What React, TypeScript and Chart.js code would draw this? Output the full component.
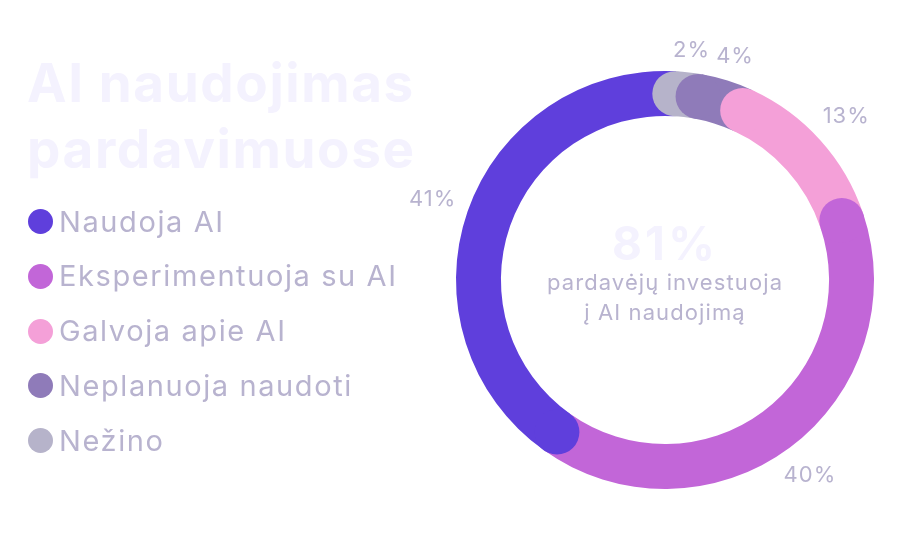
import React, { useEffect, useRef } from "react";
import { Chart, registerables } from "chart.js";

Chart.register(...registerables);

// ---- data ----
const titleLines = ["AI naudojimas", "pardavimuose"];
const categories = ["Naudoja AI", "Eksperimentuoja su AI", "Galvoja apie AI", "Neplanuoja naudoti", "Nežino"];
const values = [41, 40, 13, 4, 2];
const colors = ["#5f3fdc", "#c266d8", "#f4a0d8", "#8f7bb9", "#b6b3ca"];
const centerValue = "81%";
const centerLines = ["pardavėjų investuoja", "į AI naudojimą"];

const FONT = "Inter, 'Noto Sans', sans-serif";
const TEXT = "#b8b3cf";
const FAINT = "#f4f2fe";

// baseline helper: top of a block whose first line's baseline sits at `baseline`
const topFor = (baseline: number, fs: number, lh: number) => baseline - ((lh - 1.21 * fs) / 2 + 0.969 * fs);

const capsAndLabels = {
  id: "capsAndLabels",
  afterDatasetsDraw(chart: any) {
    const meta = chart.getDatasetMeta(0);
    const ds = chart.data.datasets[0];
    const ctx = chart.ctx as CanvasRenderingContext2D;
    ctx.save();
    meta.data.forEach((arc: any, i: number) => {
      const p = arc.getProps(["x", "y", "startAngle", "innerRadius", "outerRadius"], true);
      const mid = (p.innerRadius + p.outerRadius) / 2;
      const r = (p.outerRadius - p.innerRadius) / 2;
      ctx.beginPath();
      ctx.arc(p.x + Math.cos(p.startAngle) * mid, p.y + Math.sin(p.startAngle) * mid, r, 0, Math.PI * 2);
      ctx.fillStyle = ds.backgroundColor[i];
      ctx.fill();
    });
    ctx.fillStyle = TEXT;
    ctx.font = `400 22px ${FONT}`;
    (ctx as any).letterSpacing = "1px";
    ctx.textAlign = "center";
    ctx.textBaseline = "middle";
    meta.data.forEach((arc: any, i: number) => {
      const p = arc.getProps(["x", "y", "startAngle", "endAngle", "outerRadius"], true);
      const a = (p.startAngle + p.endAngle) / 2;
      const txt = `${ds.data[i]}%`;
      const w = ctx.measureText(txt).width;
      const h = 16;
      const rr = p.outerRadius + 12 + Math.abs(Math.cos(a)) * w / 2 + Math.abs(Math.sin(a)) * h / 2;
      ctx.fillText(txt, p.x + Math.cos(a) * rr, p.y + Math.sin(a) * rr);
    });
    ctx.restore();
  },
};

export default function App() {
  const ref = useRef<HTMLCanvasElement | null>(null);

  useEffect(() => {
    if (!ref.current) return;
    // clockwise order in the ring is the reverse of the legend order
    const order = values.map((_, i) => values.length - 1 - i);
    const chart = new Chart(ref.current, {
      type: "doughnut",
      data: {
        labels: order.map((i) => categories[i]),
        datasets: [
          {
            data: order.map((i) => values[i]),
            backgroundColor: order.map((i) => colors[i]),
            borderWidth: 0,
          },
        ],
      },
      options: {
        responsive: false,
        animation: false,
        rotation: 3,
        cutout: "78.5%",
        layout: { padding: { left: 456, right: 26, top: 71, bottom: 61 } },
        plugins: { legend: { display: false }, tooltip: { enabled: false } },
      },
      plugins: [capsAndLabels],
    });
    return () => chart.destroy();
  }, []);

  const legendFs = 29;
  const rowLh = 40;
  return (
    <div style={{ position: "fixed", left: 0, top: 0, width: 900, height: 550, background: "#fff", overflow: "hidden", fontFamily: FONT }}>
      <canvas ref={ref} width={900} height={550} style={{ position: "absolute", left: 0, top: 0, width: 900, height: 550 }} />
      <div
        style={{
          position: "absolute",
          left: 27,
          top: topFor(102, 53, 66),
          fontSize: 53,
          lineHeight: "66px",
          fontWeight: 700,
          color: FAINT,
          letterSpacing: "0.03em",
          whiteSpace: "pre",
        }}
      >
        {titleLines.join("\n")}
      </div>
      {categories.map((c, i) => (
        <div
          key={c}
          style={{
            position: "absolute",
            left: 28,
            top: 221.5 - rowLh / 2 + i * 54.8,
            height: rowLh,
            display: "flex",
            alignItems: "center",
          }}
        >
          <span style={{ width: 25, height: 25, borderRadius: "50%", background: colors[i], display: "inline-block", marginRight: 6 }} />
          <span style={{ fontSize: legendFs, lineHeight: `${rowLh}px`, color: TEXT, whiteSpace: "nowrap", letterSpacing: "0.055em" }}>{c}</span>
        </div>
      ))}
      <div
        style={{
          position: "absolute",
          left: 665 - 150,
          width: 300,
          top: topFor(260, 46, 50),
          textAlign: "center",
          fontSize: 46,
          lineHeight: "50px",
          fontWeight: 700,
          color: FAINT,
          letterSpacing: "0.07em",
        }}
      >
        {centerValue}
      </div>
      <div
        style={{
          position: "absolute",
          left: 665 - 160,
          width: 320,
          top: topFor(290, 22, 30),
          textAlign: "center",
          fontSize: 22,
          lineHeight: "30px",
          color: TEXT,
          whiteSpace: "pre",
          letterSpacing: "0.05em",
        }}
      >
        {centerLines.join("\n")}
      </div>
    </div>
  );
}
